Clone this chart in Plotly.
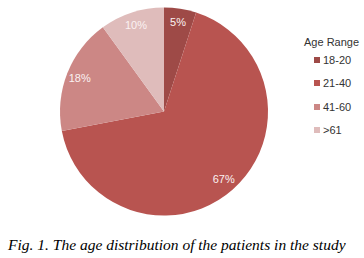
import plotly.graph_objects as go

categories = ["18-20", "21-40", "41-60", ">61"]
values = [5, 67, 18, 10]
colors = ["#9e4a47", "#b85450", "#cc8785", "#dfbcbb"]
legend_title = "Age Range"
caption = "Fig. 1. The age distribution of the patients in the study"

W, H = 364, 258
dom = dict(x=[60 / W, 268 / W], y=[(H - 216) / H, (H - 7) / H])

# filled pie (no text)
fig = go.Figure(go.Pie(
    labels=categories,
    values=values,
    sort=False,
    direction="clockwise",
    rotation=0,
    marker=dict(colors=colors, line=dict(width=0)),
    textinfo="none",
    hoverinfo="label+percent",
    domain=dom,
    showlegend=False,
))
# transparent ring overlay carrying the percentage labels near the rim
fig.add_trace(go.Pie(
    labels=categories,
    values=values,
    sort=False,
    direction="clockwise",
    rotation=0,
    hole=0.74,
    marker=dict(colors=["rgba(0,0,0,0)"] * len(values), line=dict(width=0)),
    texttemplate="%{value}%",
    textposition="inside",
    insidetextorientation="horizontal",
    textfont=dict(family="Liberation Sans, Arial", size=11, color="#fbf2f2"),
    hoverinfo="skip",
    domain=dom,
    showlegend=False,
))

annotations = [dict(
    x=331 / W, y=1 - 42 / H, xref="paper", yref="paper",
    text=legend_title, showarrow=False, xanchor="center", yanchor="middle",
    font=dict(family="Liberation Sans, Arial", size=11, color="#333333"),
)]
shapes = []
item_y = [60, 83, 107, 130]
for cat, col, yy in zip(categories, colors, item_y):
    shapes.append(dict(type="rect", xref="paper", yref="paper",
                       x0=314 / W, x1=320 / W, y0=1 - (yy + 3) / H, y1=1 - (yy - 3) / H,
                       fillcolor=col, line=dict(width=0)))
    annotations.append(dict(
        x=320.5 / W, y=1 - yy / H, xref="paper", yref="paper",
        text=cat, showarrow=False, xanchor="left", yanchor="middle",
        font=dict(family="Liberation Sans, Arial", size=11, color="#333333"),
    ))
annotations.append(dict(
    x=5 / W, y=1 - 244 / H, xref="paper", yref="paper",
    text="<i>" + caption + "</i>", showarrow=False, xanchor="left", yanchor="middle",
    font=dict(family="Liberation Serif, Times New Roman", size=15.5, color="#000000"),
))

fig.update_layout(
    width=W, height=H,
    margin=dict(l=0, r=0, t=0, b=0),
    paper_bgcolor="white", plot_bgcolor="white",
    annotations=annotations, shapes=shapes,
)

fig.write_html("out.html", config={"displayModeBar": False},
               post_script="document.body.style.margin='0px';document.body.style.padding='0px';")
